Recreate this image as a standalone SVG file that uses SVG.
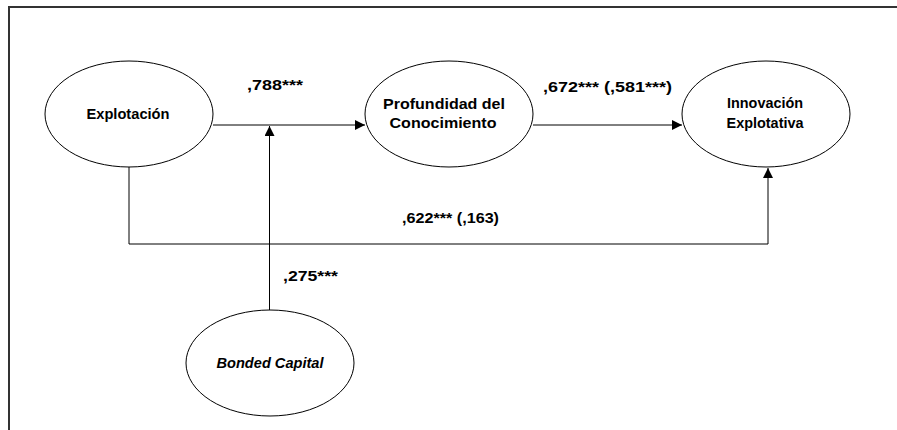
<svg xmlns="http://www.w3.org/2000/svg" width="897" height="430" viewBox="0 0 897 430">
  <style>
    .node ellipse { fill: #ffffff; stroke: #000000; stroke-width: 1; }
    .label { font-family: "Liberation Sans", Arial, sans-serif; font-weight: bold; font-size: 15px; fill: #000000; text-anchor: middle; }
    .coef { font-family: "Liberation Sans", Arial, sans-serif; font-weight: bold; font-size: 15px; fill: #000000; }
    .edge { fill: none; stroke: #000000; stroke-width: 1; }
    .frame { fill: none; stroke: #333333; stroke-width: 2; }
  </style>
  <defs>
    <marker id="arrow" viewBox="0 0 10 10" refX="10" refY="5" markerWidth="11" markerHeight="10" markerUnits="userSpaceOnUse" orient="auto">
      <path d="M0,0 L10,5 L0,10 Z" fill="#000000"/>
    </marker>
  </defs>

  <!-- page frame -->
  <path class="frame" d="M9,430 V7 H897"/>

  <!-- connectors -->
  <g id="connectors">
    <line class="edge" x1="213" y1="125" x2="365" y2="125" marker-end="url(#arrow)"/>
    <line class="edge" x1="533" y1="125" x2="682" y2="125" marker-end="url(#arrow)"/>
    <line class="edge" x1="269.5" y1="310" x2="269.5" y2="126" marker-end="url(#arrow)"/>
    <polyline class="edge" points="129,167 129,244 768,244 768,168" marker-end="url(#arrow)"/>
    <text class="coef" x="247" y="90" textLength="56" lengthAdjust="spacingAndGlyphs">,788***</text>
    <text class="coef" x="543" y="92" textLength="129" lengthAdjust="spacingAndGlyphs">,672*** (,581***)</text>
    <text class="coef" x="402" y="223" textLength="97" lengthAdjust="spacingAndGlyphs">,622*** (,163)</text>
    <text class="coef" x="283" y="281" textLength="55" lengthAdjust="spacingAndGlyphs">,275***</text>
  </g>

  <!-- nodes -->
  <g id="explotacion" class="node">
    <ellipse cx="129" cy="114" rx="84" ry="53"/>
    <text class="label" x="128" y="119" textLength="83" lengthAdjust="spacingAndGlyphs">Explotación</text>
  </g>
  <g id="profundidad" class="node">
    <ellipse cx="449" cy="114" rx="84" ry="53"/>
    <text class="label" x="444" y="109" textLength="122" lengthAdjust="spacingAndGlyphs">Profundidad del</text>
    <text class="label" x="443" y="128" textLength="107" lengthAdjust="spacingAndGlyphs">Conocimiento</text>
  </g>
  <g id="innovacion" class="node">
    <ellipse cx="766" cy="114" rx="84" ry="53"/>
    <text class="label" x="765" y="108" textLength="76" lengthAdjust="spacingAndGlyphs">Innovación</text>
    <text class="label" x="765" y="128" textLength="77" lengthAdjust="spacingAndGlyphs">Explotativa</text>
  </g>
  <g id="bonded-capital" class="node">
    <ellipse cx="270" cy="363" rx="84" ry="53"/>
    <text class="label" x="270" y="368" font-style="italic" textLength="107" lengthAdjust="spacingAndGlyphs">Bonded Capital</text>
  </g>
</svg>
